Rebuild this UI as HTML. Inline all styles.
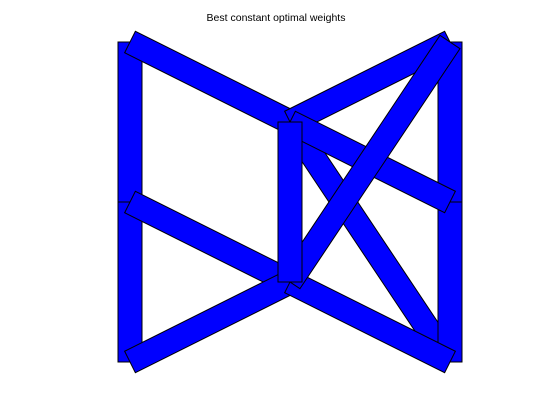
<!DOCTYPE html>
<html><head><meta charset="utf-8"><style>
html,body{margin:0;padding:0;background:#fff;}
svg{display:block;}
</style></head><body>
<svg id="chart" width="560" height="420" xmlns="http://www.w3.org/2000/svg">
<text x="276" y="21" text-anchor="middle" font-family="Liberation Sans, sans-serif" font-size="10.5" fill="#000">Best constant optimal weights</text>
<g id="bars"></g>
</svg>
<script>
var nodeX = [130, 130, 130, 290, 290, 450, 450, 450];
var nodeY = [42, 202, 362, 122, 282, 42, 202, 362];
var barFrom = [0, 1, 5, 3, 6, 0, 1, 2, 3, 3, 4, 4, 3];
var barTo   = [1, 2, 6, 7, 7, 3, 4, 4, 5, 6, 7, 5, 4];
var barWidth = [24, 24, 24, 24, 24, 24, 24, 24, 24, 24, 24, 24, 24];
var g = document.getElementById('bars');
for (var i = 0; i < barFrom.length; i++) {
  var x1 = nodeX[barFrom[i]], y1 = nodeY[barFrom[i]];
  var x2 = nodeX[barTo[i]], y2 = nodeY[barTo[i]];
  var dx = x2 - x1, dy = y2 - y1, L = Math.sqrt(dx*dx + dy*dy);
  var h = barWidth[i] / 2;
  var nx = -dy / L * h, ny = dx / L * h;
  var pts = [[x1+nx,y1+ny],[x2+nx,y2+ny],[x2-nx,y2-ny],[x1-nx,y1-ny]]
    .map(function(p){return p[0].toFixed(2)+','+p[1].toFixed(2);}).join(' ');
  var poly = document.createElementNS('http://www.w3.org/2000/svg', 'polygon');
  poly.setAttribute('points', pts);
  poly.setAttribute('fill', '#0000ff');
  poly.setAttribute('stroke', '#000');
  poly.setAttribute('stroke-width', '1');
  
  
  g.appendChild(poly);
}
</script>
</body></html>
